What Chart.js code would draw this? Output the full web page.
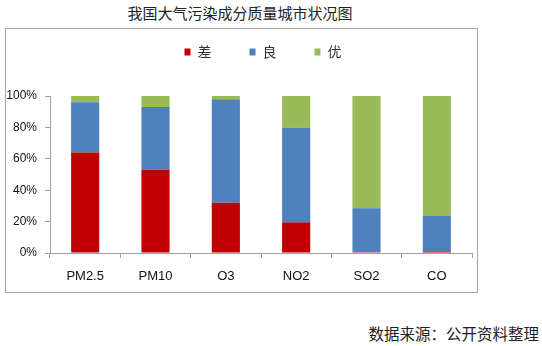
<!DOCTYPE html>
<html>
<head>
<meta charset="utf-8">
<script src="https://cdn.jsdelivr.net/npm/chart.js@4"></script>
<style>
  body { margin: 0; width: 542px; height: 346px; background: #fff; position: relative; font-family: "Noto Sans CJK SC", sans-serif; }
  #title { position: absolute; left: 0; width: 480px; top: 2px; text-align: center; font-size: 15px; color: #222; }
  #box { position: absolute; left: 5px; top: 28px; width: 471px; height: 263px; border: 1px solid #a6a6a6; }
  #source { position: absolute; right: 3px; top: 322px; font-size: 15.5px; color: #222; }
</style>
</head>
<body>
<div id="title">我国大气污染成分质量城市状况图</div>
<div id="box"><canvas id="chart" width="471" height="263"></canvas></div>
<div id="source">数据来源：公开资料整理</div>
<script>
const pollutants = ['PM2.5', 'PM10', 'O3', 'NO2', 'SO2', 'CO'];
const poor = [64, 53, 32, 19.5, 0.5, 1];
const good = [32, 40, 66, 60.5, 28, 22.5];
const excellent = [4, 7, 2, 20, 71.5, 76.5];
const yTicks = [0, 20, 40, 60, 80, 100];

const axisGrey = '#a0a0a0';

// legend needs wide gaps between items but must sit close to the plot
const legendGap = {
  id: 'legendGap',
  afterInit(chart) {
    const lg = chart.legend;
    const fit = lg.fit;
    lg.fit = function () {
      fit.call(this);
      this.height = 67;
    };
  },
  afterLayout(chart) {
    const lg = chart.legend;
    lg.top -= 22; lg.bottom -= 22;
    lg.left += 24; lg.right += 24;
  }
};

new Chart(document.getElementById('chart'), {
  type: 'bar',
  data: {
    labels: pollutants,
    datasets: [
      { label: '差', data: poor, backgroundColor: '#c00000' },
      { label: '良', data: good, backgroundColor: '#4f81bd' },
      { label: '优', data: excellent, backgroundColor: '#9bbb59' }
    ]
  },
  options: {
    responsive: false,
    animation: false,
    layout: { padding: { right: 5 } },
    datasets: { bar: { barPercentage: 1, categoryPercentage: 0.4 } },
    plugins: {
      legend: {
        labels: {
          boxWidth: 6, boxHeight: 7, padding: 38,
          color: '#333', font: { size: 14, family: '"Noto Sans CJK SC"' }
        }
      },
      tooltip: { enabled: false }
    },
    scales: {
      x: {
        stacked: true,
        grid: { offset: true, drawOnChartArea: false, tickLength: 5, color: axisGrey },
        border: { color: axisGrey },
        ticks: { color: '#111', padding: 11, font: { size: 13, family: '"Liberation Sans"' } },
        afterFit(s) { s.height = 39; }
      },
      y: {
        stacked: true, min: 0, max: 100,
        afterBuildTicks(s) { s.ticks = yTicks.map(v => ({ value: v })); },
        grid: { drawOnChartArea: false, tickLength: 5, color: axisGrey },
        border: { color: axisGrey },
        ticks: { color: '#111', padding: 8, font: { size: 12, family: '"Liberation Sans"' }, callback: v => v + '%' },
        afterFit(s) { s.width = 44; }
      }
    }
  },
  plugins: [legendGap]
});
</script>
</body>
</html>
